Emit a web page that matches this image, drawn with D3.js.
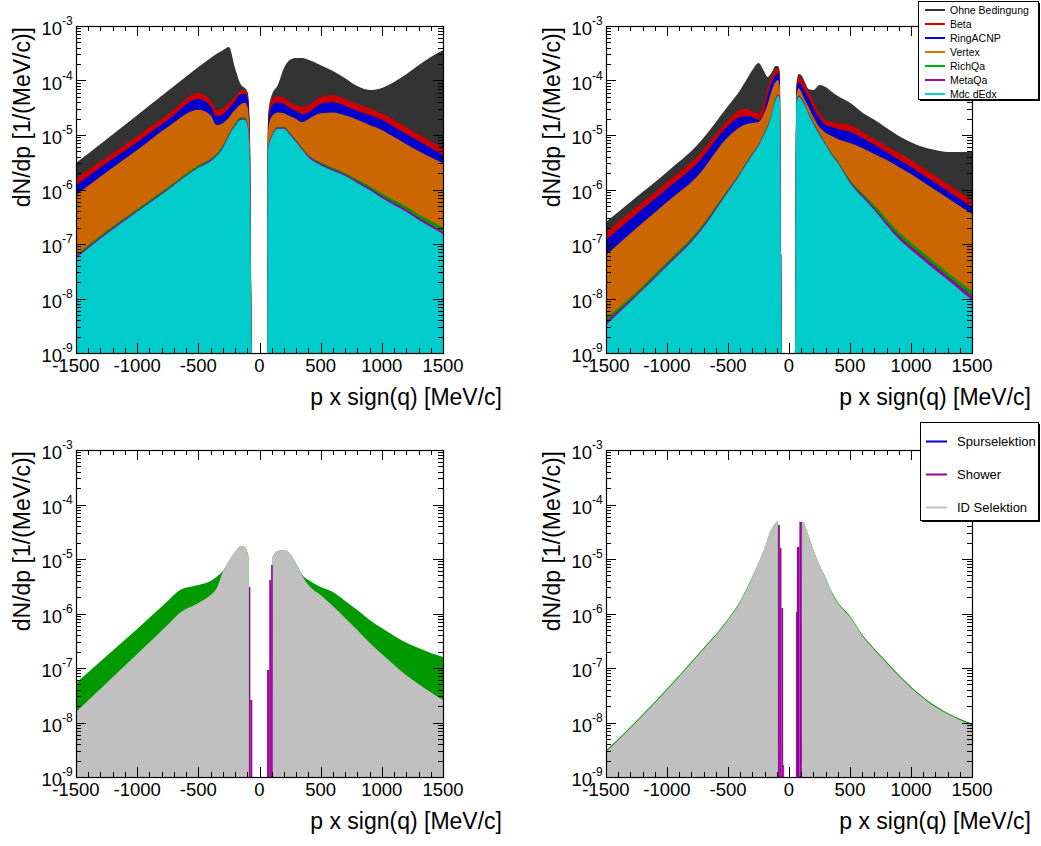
<!DOCTYPE html>
<html><head><meta charset="utf-8">
<script src="https://cdn.jsdelivr.net/npm/d3@7"></script>
<style>
body{margin:0;background:#fff}
svg{display:block}
text{font-family:"Liberation Sans",Arial,sans-serif;fill:#000}
</style>
</head><body>
<svg id="c" width="1041" height="846"></svg>
<script>
// ---------------- DATA ----------------
// common axis ticks
const xTickLabels = [-1500, -1000, -500, 0, 500, 1000, 1500];
const yDecades = [-9, -8, -7, -6, -5, -4, -3];

// top-left panel: momentum grid and dN/dp per cut
const pTL = [-1500,-1250,-1000,-750,-500,-400,-350,-300,-250,-200,-150,-120,-95,-78,-62,
              62,70,100,150,200,250,300,350,400,500,600,700,800,900,1000,1100,1200,1300,1400,1500];
const ohneTL   = [3.06e-6,8.4e-6,2.3e-5,6.4e-5,1.77e-4,2.6e-4,3.1e-4,3.6e-4,4.1e-4,1.7e-4,8.3e-5,7.3e-5,5.9e-5,1.24e-5,1e-9,
                  1e-9,2.3e-5,5.4e-5,8.3e-5,1.7e-4,2.4e-4,2.6e-4,2.6e-4,2.4e-4,1.9e-4,1.5e-4,1.1e-4,7.9e-5,6.7e-5,7.3e-5,9.4e-5,1.3e-4,1.9e-4,2.7e-4,3.6e-4];
const betaTL   = [1.63e-6,3.9e-6,9.6e-6,2.4e-5,5.9e-5,4.4e-5,2.9e-5,3.1e-5,4.0e-5,5.0e-5,6.7e-5,6.7e-5,5.2e-5,8.1e-6,1e-9,
                  1e-9,1.9e-5,4.4e-5,5.2e-5,4.8e-5,4.0e-5,3.55e-5,3.3e-5,3.55e-5,5.0e-5,5.4e-5,4.6e-5,3.7e-5,3.1e-5,2.5e-5,1.9e-5,1.4e-5,1.03e-5,7.7e-6,5.8e-6];
const ringTL   = [1.2e-6,3.06e-6,7.4e-6,1.9e-5,4.6e-5,3.4e-5,2.2e-5,2.4e-5,3.1e-5,4.2e-5,5.65e-5,5.65e-5,4.6e-5,6.6e-6,1e-9,
                  1e-9,1.52e-5,3.4e-5,4.0e-5,3.7e-5,3.1e-5,2.75e-5,2.4e-5,2.6e-5,3.7e-5,4.0e-5,3.4e-5,2.75e-5,2.3e-5,1.9e-5,1.4e-5,1.04e-5,7.8e-6,5.8e-6,4.3e-6];
const vertexTL = [7.9e-7,2.1e-6,5.3e-6,1.4e-5,2.9e-5,2.3e-5,1.52e-5,1.65e-5,2.1e-5,2.9e-5,3.7e-5,3.9e-5,3.1e-5,5.3e-6,1e-9,
                  1e-9,1.24e-5,2.2e-5,2.6e-5,2.5e-5,2.2e-5,1.97e-5,1.73e-5,1.97e-5,2.5e-5,2.6e-5,2.3e-5,1.9e-5,1.52e-5,1.24e-5,9.2e-6,6.8e-6,5.1e-6,3.9e-6,3.06e-6];
const richTL   = [6.3e-8,1.75e-7,4.4e-7,1.1e-6,2.8e-6,3.7e-6,4.6e-6,6.5e-6,1.07e-5,1.62e-5,2.15e-5,2.15e-5,1.5e-5,2.6e-6,1e-9,
                  1e-9,5.8e-6,1.0e-5,1.42e-5,1.42e-5,1.1e-5,8.1e-6,5.8e-6,4.3e-6,3.15e-6,2.5e-6,2.0e-6,1.52e-6,1.17e-6,8.5e-7,6.4e-7,4.9e-7,3.5e-7,2.65e-7,2.0e-7];
const metaTL   = [5.9e-8,1.63e-7,4.1e-7,1.03e-6,2.6e-6,3.5e-6,4.3e-6,6.1e-6,1.01e-5,1.53e-5,2.0e-5,2.0e-5,1.41e-5,2.45e-6,1e-9,
                  1e-9,5.6e-6,9.7e-6,1.37e-5,1.37e-5,1.06e-5,7.8e-6,5.6e-6,4.15e-6,3.0e-6,2.35e-6,1.88e-6,1.42e-6,1.07e-6,7.7e-7,5.7e-7,4.3e-7,3.05e-7,2.25e-7,1.68e-7];
const mdcTL    = [5.5e-8,1.52e-7,3.9e-7,9.8e-7,2.5e-6,3.3e-6,4.1e-6,5.8e-6,9.6e-6,1.46e-5,1.9e-5,1.9e-5,1.34e-5,2.3e-6,1e-9,
                  1e-9,5.3e-6,9.2e-6,1.3e-5,1.3e-5,1.0e-5,7.4e-6,5.3e-6,3.9e-6,2.8e-6,2.2e-6,1.77e-6,1.32e-6,9.8e-7,7.0e-7,5.2e-7,3.9e-7,2.75e-7,2.05e-7,1.52e-7];

// top-right panel
const pTR = [-1500,-1250,-1000,-750,-500,-400,-350,-300,-250,-210,-175,-140,-110,-90,-75,-57,
              50,60,80,100,130,160,200,250,300,350,400,500,600,700,800,900,1000,1100,1200,1300,1400,1500];
const ohneTR   = [2.53e-7,7.3e-7,2.1e-6,6.6e-6,3.4e-5,6.7e-5,1.02e-4,1.56e-4,2.1e-4,1.56e-4,1.16e-4,1.43e-4,1.85e-4,1.85e-4,1.43e-4,1e-9,
                  1e-9,8.3e-5,1.32e-4,1.26e-4,9.4e-5,7.0e-5,6.7e-5,8.3e-5,7.6e-5,6.2e-5,5.2e-5,3.9e-5,2.6e-5,1.9e-5,1.34e-5,9.6e-6,7.4e-6,6.0e-6,5.3e-6,4.9e-6,4.9e-6,4.9e-6];
const betaTR   = [1.66e-7,4.8e-7,1.37e-6,4.1e-6,1.88e-5,2.9e-5,3.0e-5,2.75e-5,2.5e-5,3.55e-5,7.3e-5,1.26e-4,1.56e-4,1.7e-4,1.26e-4,1e-9,
                  1e-9,7.3e-5,1.21e-4,1.11e-4,8.6e-5,6.2e-5,4.0e-5,2.6e-5,1.88e-5,1.73e-5,1.66e-5,1.52e-5,1.14e-5,8.45e-6,6.3e-6,4.7e-6,3.5e-6,2.5e-6,1.77e-6,1.26e-6,9.0e-7,6.4e-7];
const ringTR   = [1.18e-7,3.55e-7,1.02e-6,3.06e-6,1.46e-5,2.14e-5,2.2e-5,2.14e-5,1.88e-5,2.5e-5,5.4e-5,9.8e-5,1.26e-4,1.37e-4,1.02e-4,1e-9,
                  1e-9,6.2e-5,9.4e-5,8.3e-5,6.4e-5,4.8e-5,3.1e-5,2.05e-5,1.52e-5,1.4e-5,1.29e-5,1.14e-5,8.8e-6,6.6e-6,4.9e-6,3.5e-6,2.6e-6,1.85e-6,1.32e-6,9.4e-7,6.7e-7,4.8e-7];
const vertexTR = [6.3e-8,1.97e-7,5.9e-7,1.77e-6,9.2e-6,1.4e-5,1.59e-5,1.66e-5,1.73e-5,2.33e-5,3.7e-5,6.7e-5,9.4e-5,1.02e-4,7.3e-5,1e-9,
                  1e-9,5.2e-5,7.3e-5,6.2e-5,4.4e-5,3.3e-5,2.14e-5,1.4e-5,1.1e-5,9.6e-6,8.45e-6,7.1e-6,5.8e-6,4.5e-6,3.5e-6,2.6e-6,1.92e-6,1.37e-6,9.8e-7,7.0e-7,5.0e-7,3.55e-7];
const richTR   = [4.4e-9,1.32e-8,4.7e-8,1.73e-7,1.02e-6,2.1e-6,3.2e-6,4.7e-6,6.8e-6,1.04e-5,1.52e-5,2.64e-5,4.8e-5,5.65e-5,4.8e-5,1e-9,
                  1e-9,4.0e-5,5.4e-5,5.0e-5,3.7e-5,2.6e-5,1.73e-5,1.1e-5,7.1e-6,4.7e-6,3.3e-6,1.5e-6,8.6e-7,5.2e-7,2.9e-7,1.66e-7,1.06e-7,7.0e-8,4.6e-8,3.0e-8,2.0e-8,1.37e-8];
const metaTR   = [3.8e-9,1.2e-8,4.3e-8,1.6e-7,9.6e-7,2.0e-6,3.05e-6,4.5e-6,6.5e-6,1.0e-5,1.45e-5,2.5e-5,4.6e-5,5.4e-5,4.6e-5,1e-9,
                  1e-9,3.85e-5,5.2e-5,4.8e-5,3.55e-5,2.5e-5,1.66e-5,1.05e-5,6.9e-6,4.5e-6,3.2e-6,1.4e-6,7.9e-7,4.6e-7,2.5e-7,1.42e-7,9.0e-8,5.9e-8,3.9e-8,2.55e-8,1.7e-8,1.12e-8];
const mdcTR    = [3.27e-9,1.11e-8,3.95e-8,1.46e-7,9.0e-7,1.92e-6,2.94e-6,4.3e-6,6.3e-6,9.6e-6,1.4e-5,2.43e-5,4.4e-5,5.2e-5,4.4e-5,1e-9,
                  1e-9,3.7e-5,5.0e-5,4.6e-5,3.4e-5,2.4e-5,1.59e-5,1.0e-5,6.6e-6,4.3e-6,3.06e-6,1.32e-6,7.3e-7,4.2e-7,2.2e-7,1.23e-7,7.8e-8,5.1e-8,3.3e-8,2.2e-8,1.43e-8,9.4e-9];

// bottom-left panel
const pBL = [-1500,-1250,-1000,-750,-650,-500,-400,-350,-300,-250,-200,-150,-120,-100,-90,-86,
              100,108,120,150,200,250,300,350,400,500,600,700,800,900,1000,1100,1200,1300,1400,1500];
const greenBL = [5.3e-8,1.66e-7,5.2e-7,1.7e-6,2.7e-6,3.33e-6,3.95e-6,4.7e-6,6.0e-6,9.2e-6,1.34e-5,1.73e-5,1.66e-5,1.34e-5,1.09e-5,1e-9,
                 1e-9,1.09e-5,1.24e-5,1.4e-5,1.46e-5,1.24e-5,8.1e-6,5.1e-6,4.1e-6,3.06e-6,2.48e-6,1.7e-6,1.16e-6,7.6e-7,5.4e-7,3.9e-7,2.9e-7,2.33e-7,1.88e-7,1.59e-7];
const idBL    = [1.56e-8,5.3e-8,1.8e-7,6.2e-7,1.03e-6,1.56e-6,2.18e-6,2.94e-6,5.8e-6,9.2e-6,1.34e-5,1.73e-5,1.66e-5,1.34e-5,1.09e-5,1e-9,
                 1e-9,1.09e-5,1.24e-5,1.4e-5,1.46e-5,1.24e-5,8.1e-6,4.9e-6,3.33e-6,2.18e-6,1.37e-6,8.3e-7,5.0e-7,2.9e-7,1.8e-7,1.13e-7,7.4e-8,5.1e-8,3.6e-8,2.6e-8];
const showerLoBL  = [-86,-75,62,80,95];
const showerHiBL  = [-75,-59,80,95,108];
const showerValBL = [3.06e-6,2.6e-8,9.2e-8,4.1e-6,7.8e-6];

// bottom-right panel
const pBR = [-1500,-1250,-1000,-750,-500,-400,-300,-250,-200,-150,-110,-95,-90,
              105,110,150,200,250,300,350,400,500,600,700,800,900,1000,1100,1200,1300,1400,1500];
const greenBR = [3.05e-9,1.08e-8,4.15e-8,1.75e-7,7.9e-7,1.69e-6,4.8e-6,8.4e-6,1.59e-5,3.3e-5,4.6e-5,5.0e-5,1e-9,
                 1e-9,4.8e-5,3.1e-5,1.46e-5,7.8e-6,4.6e-6,2.52e-6,1.62e-6,9.0e-7,4.1e-7,2.25e-7,1.3e-7,7.5e-8,4.55e-8,2.95e-8,2.02e-8,1.5e-8,1.17e-8,9.5e-9];
const idBR    = [2.88e-9,1.02e-8,3.95e-8,1.66e-7,7.6e-7,1.63e-6,4.7e-6,8.4e-6,1.59e-5,3.3e-5,4.6e-5,5.0e-5,1e-9,
                 1e-9,4.8e-5,3.1e-5,1.46e-5,7.8e-6,4.5e-6,2.45e-6,1.56e-6,8.6e-7,3.9e-7,2.14e-7,1.24e-7,7.1e-8,4.3e-8,2.8e-8,1.92e-8,1.43e-8,1.11e-8,9.0e-9];
const showerLoBR  = [-90,-75,-62,-48,57,65,85];
const showerHiBR  = [-75,-62,-48,-40,65,85,105];
const showerValBR = [4.2e-5,1.59e-5,1.26e-6,1.66e-9,1.07e-6,1.66e-5,4.8e-5];

// legends
const legendTopNames = ["Ohne Bedingung","Beta","RingACNP","Vertex","RichQa","MetaQa","Mdc dEdx"];
const legendTopColors = ["#333333","#e00000","#0000e0","#e07000","#00b000","#b000b0","#00d8d8"];
const legendBotNames = ["Spurselektion","Shower","ID Selektion"];
const legendBotColors = ["#0000cc","#990099","#c0c0c0"];

// ---------------- DRAWING ----------------
const FILL = {ohne:"#333333",beta:"#cc0000",ring:"#0000cc",vertex:"#cc6600",rich:"#009900",meta:"#990099",mdc:"#00cccc",id:"#c0c0c0",green:"#009900",shower:"#990099"};
const svg = d3.select("#c");
const FLOOR = 1e-9;

const panels = [
  {x0:76, x1:443, y0:26, y1:353, p:pTL, layers:[[ohneTL,FILL.ohne],[betaTL,FILL.beta],[ringTL,FILL.ring],[vertexTL,FILL.vertex],[richTL,FILL.rich],[metaTL,FILL.meta],[mdcTL,FILL.mdc]]},
  {x0:606, x1:972, y0:26, y1:353, p:pTR, layers:[[ohneTR,FILL.ohne],[betaTR,FILL.beta],[ringTR,FILL.ring],[vertexTR,FILL.vertex],[richTR,FILL.rich],[metaTR,FILL.meta],[mdcTR,FILL.mdc]]},
  {x0:76, x1:443, y0:450, y1:777, p:pBL, layers:[[greenBL,FILL.green],[idBL,FILL.id]], bins:[showerLoBL,showerHiBL,showerValBL]},
  {x0:606, x1:972, y0:450, y1:777, p:pBR, layers:[[greenBR,FILL.green],[idBR,FILL.id]], bins:[showerLoBR,showerHiBR,showerValBR]}
];

panels.forEach((fr, i) => {
  const xs = d3.scaleLinear().domain([-1500,1500]).range([fr.x0, fr.x1]);
  const ys = d3.scaleLog().domain([1e-9,1e-3]).range([fr.y1, fr.y0]);
  const g = svg.append("g");
  const cid = "clip"+i;
  svg.append("clipPath").attr("id",cid).append("rect")
    .attr("x",fr.x0).attr("y",fr.y0).attr("width",fr.x1-fr.x0).attr("height",fr.y1-fr.y0);
  const plot = g.append("g").attr("clip-path","url(#"+cid+")");
  const area = d3.area()
    .x(d => xs(d[0]))
    .y0(ys(FLOOR))
    .y1(d => ys(Math.max(d[1], FLOOR)))
    .curve(d3.curveMonotoneX);
  fr.layers.forEach(([vals,col]) => {
    plot.append("path").datum(d3.zip(fr.p, vals)).attr("d", area).attr("fill", col);
  });
  if (fr.bins) {
    const [lo,hi,val] = fr.bins;
    plot.selectAll("rect.bin").data(d3.range(lo.length)).join("rect")
      .attr("x", k => xs(lo[k])).attr("width", k => xs(hi[k]) - xs(lo[k]))
      .attr("y", k => ys(Math.max(val[k],FLOOR))).attr("height", k => ys(FLOOR) - ys(Math.max(val[k],FLOOR)))
      .attr("fill", FILL.shower);
  }
  // frame
  g.append("rect").attr("x",fr.x0+0.5).attr("y",fr.y0+0.5).attr("width",fr.x1-fr.x0).attr("height",fr.y1-fr.y0)
    .attr("fill","none").attr("stroke","#000").attr("stroke-width",1.2);
  // x ticks (bottom & top)
  const tk = g.append("g").attr("stroke","#000").attr("stroke-width",1).attr("shape-rendering","crispEdges");
  d3.range(-1500,1501,100).forEach(v => {
    const len = (v % 500 === 0) ? 10 : 5;
    const x = Math.round(xs(v)) + 0.5;
    tk.append("line").attr("x1",x).attr("x2",x).attr("y1",fr.y1).attr("y2",fr.y1-len);
    tk.append("line").attr("x1",x).attr("x2",x).attr("y1",fr.y0).attr("y2",fr.y0+len);
  });
  // y ticks (left & right), log minors
  yDecades.forEach(d => {
    for (let m = 1; m <= 9; m++) {
      if (d === -3 && m > 1) break;
      const v = m * Math.pow(10, d);
      const y = Math.round(ys(v)) + 0.5;
      const len = m === 1 ? 10 : 5;
      tk.append("line").attr("x1",fr.x0).attr("x2",fr.x0+len).attr("y1",y).attr("y2",y);
      tk.append("line").attr("x1",fr.x1).attr("x2",fr.x1-len).attr("y1",y).attr("y2",y);
    }
  });
  // x tick labels
  xTickLabels.forEach(v => {
    g.append("text").attr("x", xs(v)).attr("y", fr.y1 + 19).attr("text-anchor","middle")
      .attr("font-size","18.5px").text(v);
  });
  // y tick labels
  yDecades.forEach(d => {
    const y = ys(Math.pow(10,d));
    g.append("text").attr("x", fr.x0-14).attr("y", y+9).attr("text-anchor","end").attr("font-size","18.5px").text("10");
    g.append("text").attr("x", fr.x0-14).attr("y", y-1).attr("text-anchor","start").attr("font-size","12px").text(String(d));
  });
  // axis titles
  g.append("text").attr("x", fr.x1 + 59).attr("y", fr.y1 + 52).attr("text-anchor","end")
    .attr("font-size","23px").text("p x sign(q) [MeV/c]");
  g.append("text").attr("transform", `translate(${fr.x0-46},${fr.y0+1}) rotate(-90)`).attr("text-anchor","end")
    .attr("font-size","23px").text("dN/dp [1/(MeV/c)]");
});

// legends
function legend(x, y, w, h, names, colors, lineX1, lineX2, textX, y0, dy, fs) {
  const g = svg.append("g");
  g.append("rect").attr("x",x+2).attr("y",y+2).attr("width",w).attr("height",h).attr("fill","#000");
  g.append("rect").attr("x",x+0.5).attr("y",y+0.5).attr("width",w).attr("height",h).attr("fill","#fff").attr("stroke","#000").attr("stroke-width",1);
  names.forEach((n, k) => {
    const yy = y0 + k*dy;
    g.append("line").attr("x1",lineX1).attr("x2",lineX2).attr("y1",yy).attr("y2",yy).attr("stroke",colors[k]).attr("stroke-width",2);
    g.append("text").attr("x",textX).attr("y",yy).attr("dy","0.35em").attr("font-size",fs).text(n);
  });
}
legend(918, 1, 120, 98, legendTopNames, legendTopColors, 925, 945, 950, 10, 14, "10.5px");
legend(920, 422, 118, 98, legendBotNames, legendBotColors, 926, 947, 957, 441.5, 33, "13px");
</script>
</body></html>
